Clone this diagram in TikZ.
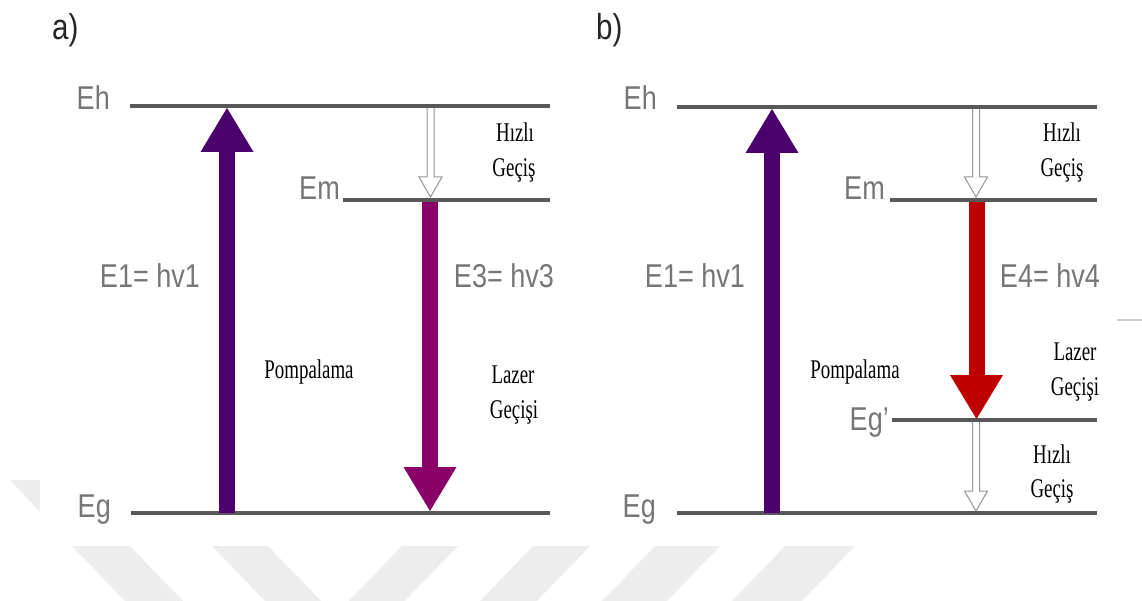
\documentclass[tikz,border=0pt]{standalone}
\usepackage{fontspec}
\usetikzlibrary{arrows.meta,calc}
\newfontfamily\lblfont[FakeStretch=0.82]{Liberation Sans}
\newfontfamily\serfont[FakeStretch=0.7]{Liberation Serif}
\definecolor{purp}{RGB}{75,0,110}
\definecolor{mag}{RGB}{138,0,105}
\definecolor{lred}{RGB}{192,0,0}
\definecolor{lvlgray}{RGB}{88,88,88}
\definecolor{txtgray}{RGB}{118,118,118}
\definecolor{wm}{RGB}{237,237,237}
\definecolor{hollowgray}{RGB}{150,150,150}
\newcommand{\hollowarr}[2]{%
  \draw[hollow] ($(#1)+(-3.5,0)$) -- ($(#2)+(-3.5,-20)$) -- ($(#2)+(-11.5,-20)$) -- (#2)
    -- ($(#2)+(11.5,-20)$) -- ($(#2)+(3.5,-20)$) -- ($(#1)+(3.5,0)$);}
\begin{document}
\begin{tikzpicture}[x=1pt,y=-1pt,
  level/.style={line width=3.5pt, draw=lvlgray},
  elbl/.style={font=\lblfont\fontsize{33}{38}\selectfont, text=txtgray, inner sep=0pt},
  plbl/.style={font=\lblfont\fontsize{36}{40}\selectfont, text=black!85, inner sep=0pt, anchor=base west},
  note/.style={font=\serfont\fontsize{27}{30}\selectfont, text=black, inner sep=0pt, anchor=base},
  fat/.style={line width=16pt, -{Triangle[width=53pt,length=44pt,line width=0pt]}},
  hollow/.style={draw=hollowgray, fill=white, line width=1pt, line join=miter},
  wmark/.style={fill=wm, draw=none},
]
\useasboundingbox (0,0) rectangle (1142,601);
% watermark
\fill[wmark] (10,480) -- (40,480) -- (40,512) -- cycle;
\fill[wmark] (72,546) -- (130,546) -- (183,601) -- (125,601) -- cycle;
\fill[wmark] (212,546) -- (268,546) -- (321,601) -- (265,601) -- cycle;
\fill[wmark] (402,546) -- (458,546) -- (405,601) -- (349,601) -- cycle;
\fill[wmark] (533,546) -- (590,546) -- (537,601) -- (480,601) -- cycle;
\fill[wmark] (655,546) -- (720,546) -- (667,601) -- (602,601) -- cycle;
\fill[wmark] (785,546) -- (855,546) -- (802,601) -- (732,601) -- cycle;
\draw[draw=black!20, line width=1.5pt] (1117,320) -- (1142,320);

% ---------- panel a ----------
\coordinate (ehaL) at (130,106); \coordinate (ehaR) at (550,106);
\coordinate (emaL) at (343,200); \coordinate (emaR) at (550,200);
\coordinate (egaL) at (131,513); \coordinate (egaR) at (550,513);
\coordinate (pas) at (227,513); \coordinate (pae) at (227,108);
\coordinate (mas) at (430,202); \coordinate (mae) at (430,511);
\coordinate (has) at (430.5,108); \coordinate (hae) at (430.5,197);

\hollowarr{has}{hae}
\draw[level] (ehaL) -- (ehaR);
\draw[level] (emaL) -- (emaR);
\draw[level] (egaL) -- (egaR);
\draw[fat, purp] (pas) -- (pae);
\draw[fat, mag] (mas) -- (mae);

\node[plbl] (la) at (52,40) {a)};
\node[elbl, anchor=base east] (Eha) at (110,110) {Eh};
\node[elbl, anchor=base east] (Ema) at (340,200) {Em};
\node[elbl, anchor=base east] (Ega) at (111,517) {Eg};
\node[elbl, anchor=base] (E1a) at (150,288) {E1= hv1};
\node[elbl, anchor=base] (E3a) at (504,288) {E3= hv3};
\node[note] (hza) at (515,142) {Hızlı};
\node[note] (gca) at (514,177) {Geçiş};
\node[note] (poa) at (309,378) {Pompalama};
\node[note] (lza) at (513,383) {Lazer};
\node[note] (gia) at (514,418) {Geçişi};

% ---------- panel b ----------
\coordinate (ehbL) at (677,107); \coordinate (ehbR) at (1097,107);
\coordinate (embL) at (890,200); \coordinate (embR) at (1097,200);
\coordinate (egpbL) at (892,420); \coordinate (egpbR) at (1097,420);
\coordinate (egbL) at (677,513); \coordinate (egbR) at (1097,513);
\coordinate (pbs) at (772,513); \coordinate (pbe) at (772,109);
\coordinate (rbs) at (976.5,202); \coordinate (rbe) at (976.5,419);
\coordinate (hbs) at (976,108); \coordinate (hbe) at (976,197);
\coordinate (hcs) at (976,422); \coordinate (hce) at (976,511);

\hollowarr{hbs}{hbe}
\hollowarr{hcs}{hce}
\draw[level] (ehbL) -- (ehbR);
\draw[level] (embL) -- (embR);
\draw[level] (egpbL) -- (egpbR);
\draw[level] (egbL) -- (egbR);
\draw[fat, purp] (pbs) -- (pbe);
\draw[fat, lred] (rbs) -- (rbe);

\node[plbl] (lb) at (596,40) {b)};
\node[elbl, anchor=base east] (Ehb) at (657,110) {Eh};
\node[elbl, anchor=base east] (Emb) at (885,200) {Em};
\node[elbl, anchor=base east] (Egpb) at (889,430) {Eg’};
\node[elbl, anchor=base east] (Egb) at (656,517) {Eg};
\node[elbl, anchor=base] (E1b) at (695,288) {E1= hv1};
\node[elbl, anchor=base] (E4b) at (1050,288) {E4= hv4};
\node[note] (hzb) at (1062,142) {Hızlı};
\node[note] (gcb) at (1062,177) {Geçiş};
\node[note] (pob) at (855,378) {Pompalama};
\node[note] (lzb) at (1075,360) {Lazer};
\node[note] (gib) at (1075,395) {Geçişi};
\node[note] (hzc) at (1052,463) {Hızlı};
\node[note] (gcc) at (1052,497) {Geçiş};
\end{tikzpicture}
\end{document}
